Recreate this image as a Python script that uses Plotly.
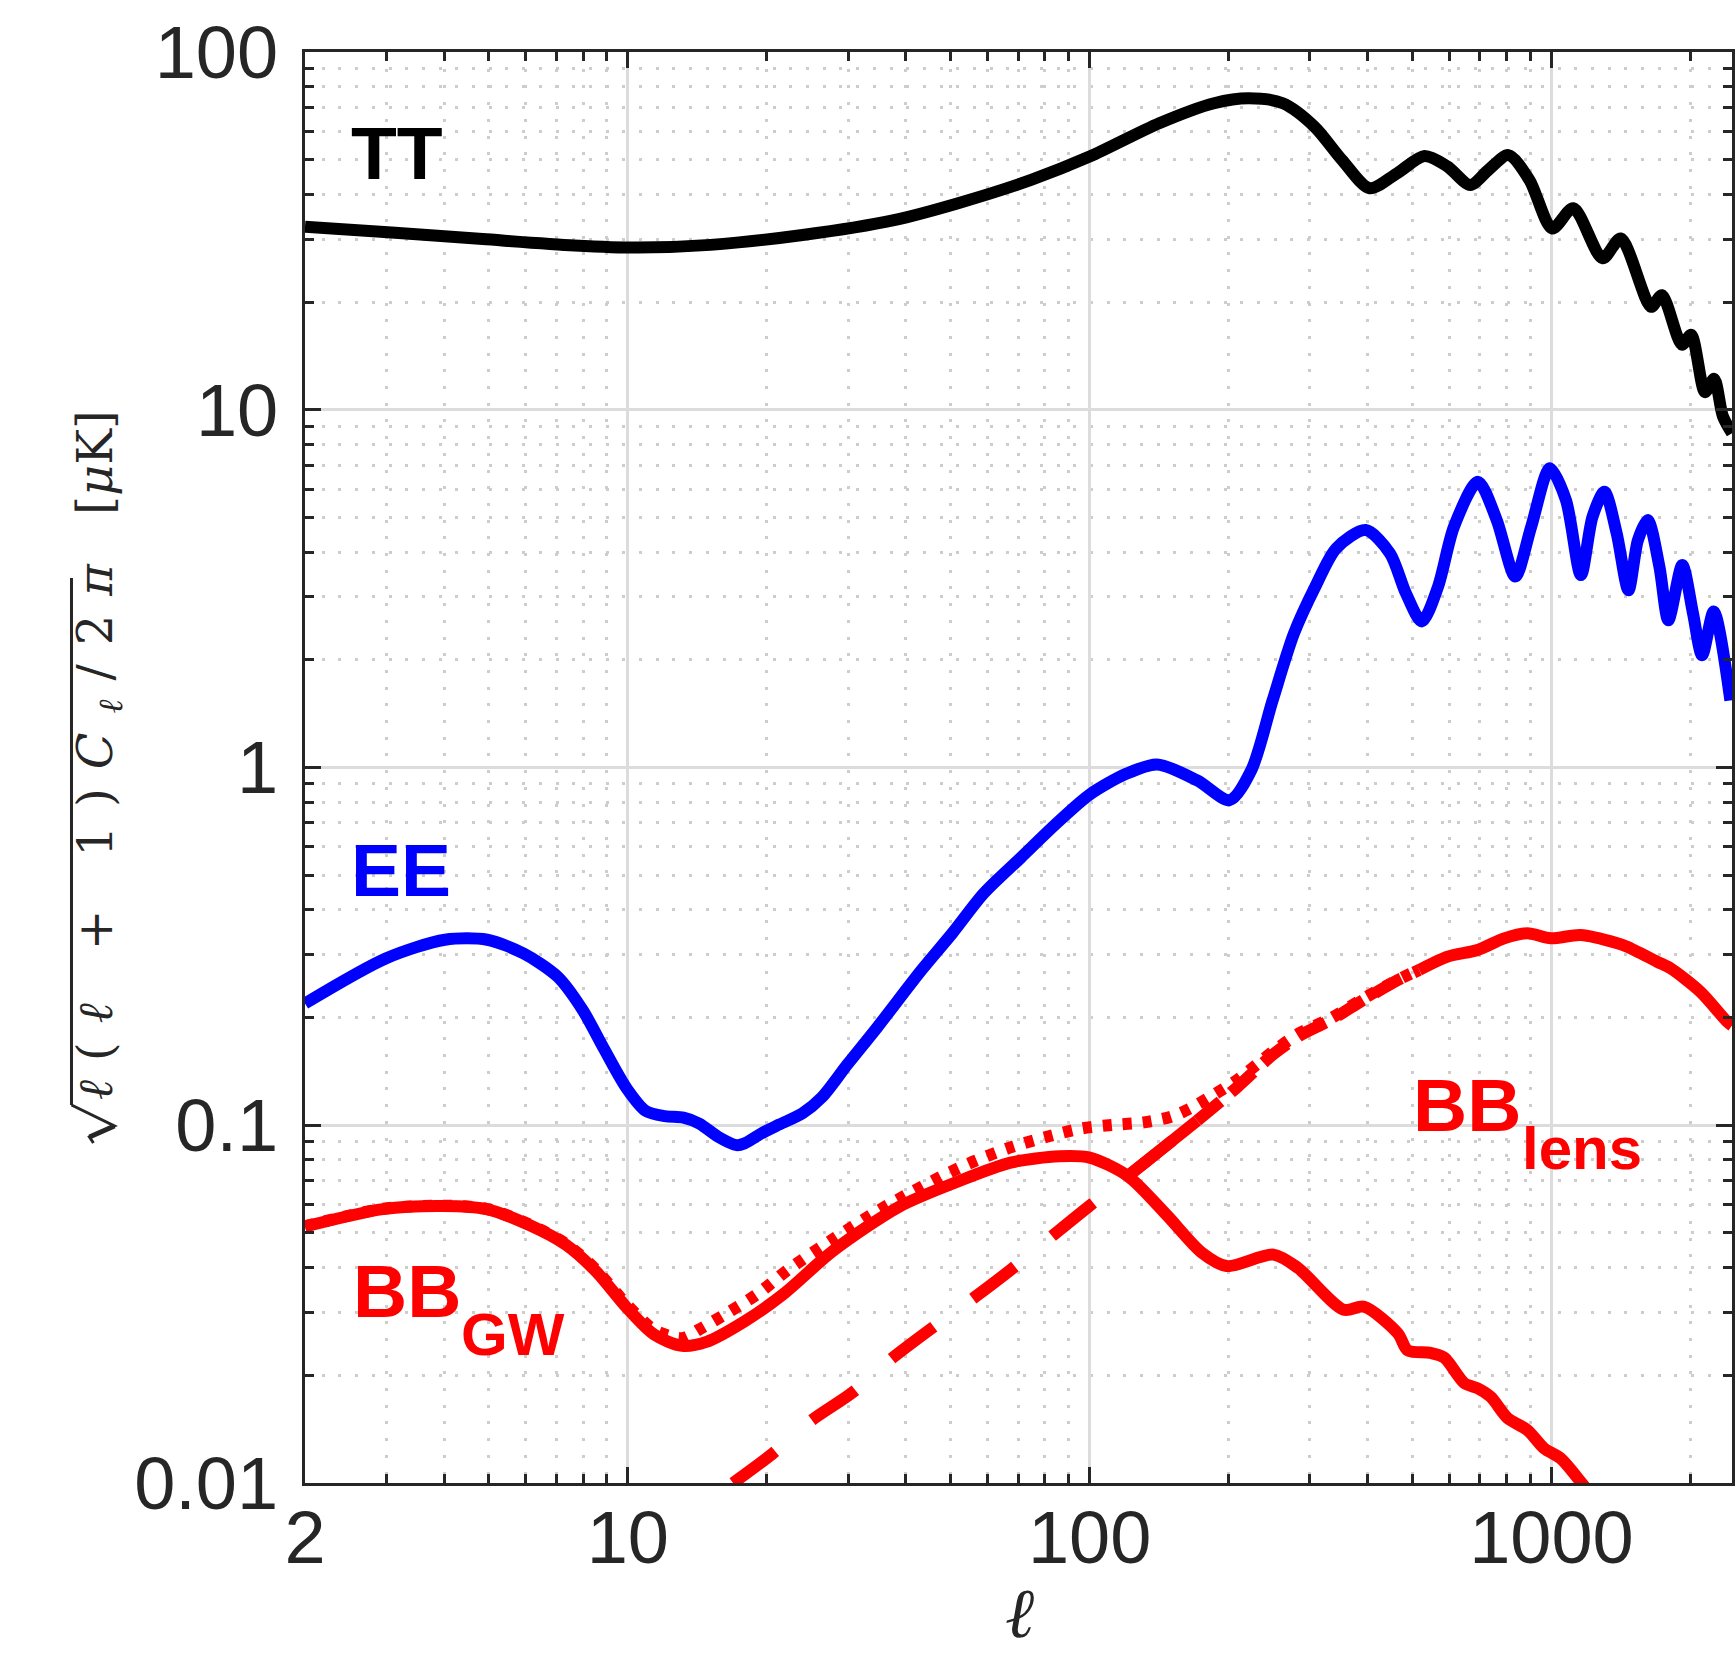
import plotly.graph_objects as go
import math

# ---------------- data ----------------
tt_l = [2, 3.08, 4.85, 7.66, 10.5, 15.1, 23.9, 37.7, 51.9, 74.7, 100, 141.5, 186, 221, 262, 307, 352, 404,
        463, 531, 595, 667, 730, 807, 896, 1004, 1115, 1290, 1413, 1643, 1734, 1917, 2007, 2150, 2250, 2350, 2460]
tt_v = [32.5, 31.3, 30.0, 28.8, 28.4, 28.9, 30.8, 33.9, 37.8, 43.9, 51.0, 63.2, 71.9, 74.2, 71.9, 61.8, 49.9, 41.6,
        45.8, 51.2, 47.9, 42.5, 46.8, 51.5, 43.9, 32.1, 36.6, 26.5, 30.1, 19.4, 20.9, 15.2, 16.2, 11.2, 12.2, 9.6, 8.6]

ee_l = [2, 3.0, 4.02, 4.96, 5.95, 7.05, 7.99, 8.87, 9.95, 10.94, 12.03, 13.2, 14.3, 15.7, 17.2, 17.9, 19.5, 21.3,
        23.9, 26.3, 29.9, 34.7, 43.3, 50.5, 59, 71, 85, 100, 120, 140, 171, 201, 224, 249, 277, 308, 342, 396,
        447, 484, 524, 568, 615, 693, 761, 835, 904, 992, 1075, 1158, 1227, 1302, 1384, 1468, 1539, 1616, 1713,
        1791, 1920, 2025, 2119, 2246, 2440]
ee_v = [0.219, 0.293, 0.330, 0.330, 0.302, 0.260, 0.2096, 0.164, 0.1266, 0.1096, 0.106, 0.105, 0.101, 0.0928,
        0.088, 0.089, 0.095, 0.1005, 0.108, 0.1196, 0.148, 0.188, 0.272, 0.345, 0.445, 0.56, 0.70, 0.84, 0.96,
        1.02, 0.92, 0.811, 0.984, 1.54, 2.37, 3.20, 4.10, 4.61, 3.97, 3.07, 2.56, 3.20, 4.71, 6.29, 4.92, 3.42,
        4.71, 6.86, 5.59, 3.45, 5.02, 5.90, 4.52, 3.13, 4.32, 4.92, 3.64, 2.58, 3.68, 2.70, 2.06, 2.73, 1.54]

gw_l = [2, 2.95, 3.98, 4.94, 6.12, 7.35, 8.54, 9.95, 11.4, 13.1, 14.8, 17.9, 21.7, 27.8, 38.7, 51.7, 67.4, 86.1,
        100, 121, 146.5, 175, 198, 250, 282, 355, 393, 465, 488, 547, 586, 648, 692, 739, 803, 887, 964, 1047,
        1157, 1200]
gw_v = [0.0521, 0.0583, 0.0595, 0.0583, 0.0526, 0.0463, 0.0390, 0.0309, 0.0260, 0.02418, 0.0248, 0.0283, 0.0337,
        0.0445, 0.0592, 0.0695, 0.0786, 0.0819, 0.0812, 0.0721, 0.0563, 0.0440, 0.0404, 0.0435, 0.0400, 0.0305,
        0.0311, 0.0262, 0.0235, 0.0231, 0.0224, 0.0190, 0.0184, 0.0174, 0.0152, 0.01406, 0.0125, 0.01172,
        0.01008, 0.0095]

lens_l = [16.9, 20.6, 24.9, 30.7, 37.0, 45.2, 55.2, 67.4, 82.3, 99.4, 121, 143, 171, 209, 250, 285, 333, 387,
          465, 517, 596, 692, 790, 887, 997, 1157, 1389, 1459, 1695, 1810, 2102, 2401, 2460]
lens_v = [0.0100, 0.01209, 0.01491, 0.01793, 0.02211, 0.0269, 0.0324, 0.0394, 0.0486, 0.0592, 0.0721, 0.0856,
          0.103, 0.128, 0.158, 0.178, 0.197, 0.222, 0.2547, 0.2716, 0.296, 0.309, 0.333, 0.344, 0.333, 0.340,
          0.3225, 0.3155, 0.2864, 0.2746, 0.236, 0.1948, 0.19]

tot_l = [2, 2.95, 3.98, 4.94, 6.12, 7.35, 8.54, 9.95, 11.4, 13.1, 14.3, 16.3, 19.0, 22.2, 27.8, 34.7, 41.4, 49.4,
         56.5, 67.4, 80.5, 96.2, 112, 131, 150, 167, 187, 209, 250, 285, 333, 387, 465, 517]
tot_v = [0.0522, 0.0584, 0.0596, 0.0584, 0.0528, 0.0466, 0.0394, 0.0315, 0.0268, 0.0254, 0.0269, 0.0297, 0.0336,
         0.0394, 0.048, 0.0575, 0.0653, 0.0735, 0.0795, 0.0867, 0.0927, 0.098, 0.1002, 0.1019, 0.1056, 0.1123,
         0.1224, 0.134, 0.161, 0.181, 0.199, 0.224, 0.255, 0.272]

x_ticks = [2, 10, 100, 1000]
x_ticktext = ["2", "10", "100", "1000"]
y_ticks = [0.01, 0.1, 1, 10, 100]
y_ticktext = ["0.01", "0.1", "1", "10", "100"]
x_minor = [3, 4, 5, 6, 7, 8, 9, 20, 30, 40, 50, 60, 70, 80, 90, 200, 300, 400, 500, 600, 700, 800, 900, 2000]
y_minor = [0.02, 0.03, 0.04, 0.05, 0.06, 0.07, 0.08, 0.09, 0.2, 0.3, 0.4, 0.5, 0.6, 0.7, 0.8, 0.9,
           2, 3, 4, 5, 6, 7, 8, 9, 20, 30, 40, 50, 60, 70, 80, 90]
x_max = 2460

# ---------------- layout geometry ----------------
W, H = 1736, 1654
L, R, T, B = 305, 1735, 52, 1483


def px(xp):
    return (xp - L) / (R - L)


def py(yp):
    return (B - yp) / (B - T)


LW = 12
RED, BLUE, BLACK = "#ff0000", "#0000ff", "#000000"
AX = "#262626"


def seg(xs, ys, lo, hi):
    pts = [(a, b) for a, b in zip(xs, ys) if lo <= a <= hi]
    return [p[0] for p in pts], [p[1] for p in pts]


def line(xs, ys, color, dash="solid"):
    return go.Scatter(x=xs, y=ys, mode="lines", hoverinfo="skip",
                      line=dict(color=color, width=LW, dash=dash, shape="spline", smoothing=0.8))


fig = go.Figure()
fig.add_trace(line(tt_l, tt_v, BLACK))
fig.add_trace(line(ee_l, ee_v, BLUE))
fig.add_trace(line(gw_l, gw_v, RED))
# lensing B-modes: dashed at low l, broken in the transition, solid where the curves merge
fig.add_trace(line(*seg(lens_l, lens_v, 0, 171), RED, "53px,48px"))
fig.add_trace(line(*seg(lens_l, lens_v, 121, 171), RED))
fig.add_trace(line(*seg(lens_l, lens_v, 171, 517), RED, "30px,14px"))
fig.add_trace(line(*seg(lens_l, lens_v, 517, 1e9), RED))
# total B-modes: dotted
fig.add_trace(line(tot_l, tot_v, RED, "9px,11px"))

tickfont = dict(family="Liberation Sans, Arial, Helvetica", size=74, color=AX)
common = dict(
    type="log", showline=True, linecolor=AX, linewidth=3, mirror="allticks",
    ticks="inside", ticklen=16, tickwidth=3, tickcolor=AX, tickfont=tickfont,
    showgrid=True, gridcolor="#dcdcdc", gridwidth=3, zeroline=False,
)
fig.update_xaxes(
    **common, range=[math.log10(2), math.log10(x_max)], tickmode="array", tickvals=x_ticks, ticktext=x_ticktext,
    ticklabelstandoff=-12,
    minor=dict(tickmode="array", tickvals=x_minor, ticks="inside", ticklen=9, tickwidth=3, tickcolor=AX,
               showgrid=True, gridcolor="#cdcdcd", gridwidth=3, griddash="3px,13.7px"),
)
fig.update_yaxes(
    **common, range=[-2, 2], tickmode="array", tickvals=y_ticks, ticktext=y_ticktext,
    ticklabelstandoff=9,
    minor=dict(tickmode="array", tickvals=y_minor, ticks="inside", ticklen=9, tickwidth=3, tickcolor=AX,
               showgrid=True, gridcolor="#cdcdcd", gridwidth=3, griddash="3px,13.7px"),
)

BOLD = "Liberation Sans, Arial, Helvetica"
ann = []


def label(text, xl, ytop, size, color):
    ann.append(dict(text="<b>%s</b>" % text, x=px(xl), y=py(ytop), xref="paper", yref="paper",
                    xanchor="left", yanchor="top", showarrow=False,
                    font=dict(family=BOLD, size=size, color=color), borderpad=0))


# positions: top of text box = baseline - 0.905*size
label("TT", 350, 178 - 0.905 * 75, 75, BLACK)
label("EE", 350, 895 - 0.905 * 75, 75, BLUE)
label("BB", 352, 1316 - 0.905 * 75, 75, RED)
label("GW", 460, 1354 - 0.905 * 60, 60, RED)
label("BB", 1414, 1130 - 0.905 * 75, 75, RED)
label("lens", 1524, 1168 - 0.905 * 60, 60, RED)

# x-axis title (script ell)
ann.append(dict(text="<i>ℓ</i>", x=px(1021), y=py(1653), xref="paper", yref="paper", xanchor="center",
                yanchor="bottom", showarrow=False, borderpad=0,
                font=dict(family="Liberation Serif, DejaVu Serif, serif", size=70, color=AX)))

# y-axis title: sqrt(l(l+1)C_l/2pi)  [muK]  (radical sign and vinculum drawn as shapes)
VX = 71      # x of the vinculum
YE = 1105    # where the radical joins the vinculum
SERIF = "DejaVu Serif, Liberation Serif, serif"
ylab = ("<span style='letter-spacing:19px'>"
        "<i>ℓ</i>(<i>ℓ</i> + 1)<i>C</i><sub><i>ℓ</i></sub>/2<i>π</i></span>"
        "\u00a0\u00a0[<i>μ</i>K]")
ann.append(dict(text=ylab, x=px(97.5), y=py(YE - 3), xref="paper", yref="paper", xanchor="center",
                yanchor="bottom", textangle=-90, showarrow=False, font=dict(family=SERIF, size=48, color=AX)))


def ppath(points):
    return "M " + " L ".join("%.5f,%.5f" % (px(a), py(b)) for a, b in points)


shapes = [
    dict(type="line", xref="paper", yref="paper", x0=px(VX), x1=px(VX), y0=py(578), y1=py(YE),
         line=dict(color=AX, width=3)),
    dict(type="path", xref="paper", yref="paper",
         path=ppath([(93, YE + 38), (89, YE + 32), (114, YE + 21), (VX, YE)]),
         line=dict(color=AX, width=3)),
    dict(type="path", xref="paper", yref="paper", path=ppath([(89, YE + 32), (114, YE + 21)]),
         line=dict(color=AX, width=5)),
]

fig.update_layout(
    width=W, height=H, margin=dict(l=L, r=W - R, t=T, b=H - B), paper_bgcolor="white", plot_bgcolor="white",
    showlegend=False, annotations=ann, shapes=shapes,
)
fig.write_html("out.html")
